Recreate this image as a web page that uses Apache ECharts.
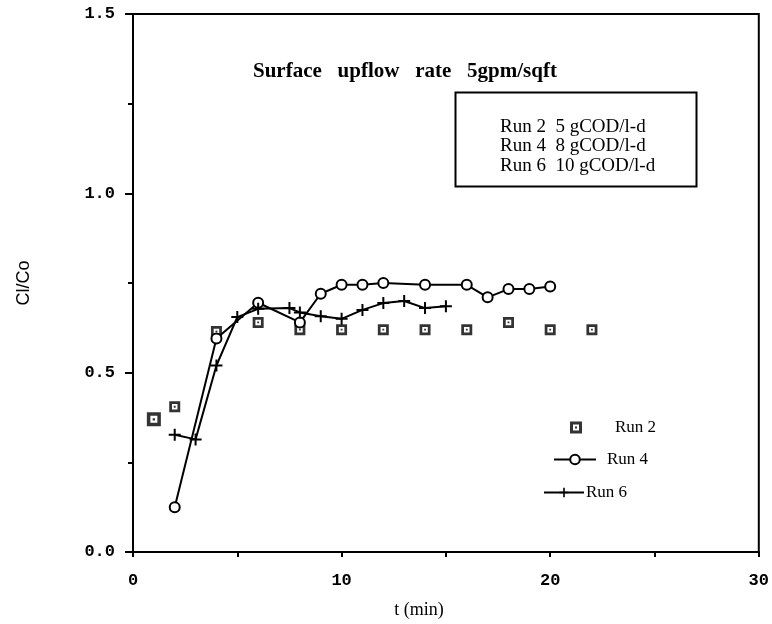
<!DOCTYPE html>
<html>
<head>
<meta charset="utf-8">
<script src="https://cdn.jsdelivr.net/npm/echarts@6/dist/echarts.min.js"></script>
<style>
html,body{margin:0;padding:0;background:#fff;}
#chart{width:772px;height:624px;}
</style>
</head>
<body>
<div id="chart"></div>
<script>
// ---- data ----
const titleText = 'Surface   upflow   rate   5gpm/sqft';
const boxLines = ['Run 2  5 gCOD/l-d', 'Run 4  8 gCOD/l-d', 'Run 6  10 gCOD/l-d'];
const seriesNames = ['Run 2', 'Run 4', 'Run 6'];
const xName = 't (min)';
const yName = 'Cl/Co';
const xTickLabels = ['0', '10', '20', '30'];
const yTickLabels = ['0.0', '0.5', '1.0', '1.5'];

const run2X = [1, 2, 4, 6, 8, 10, 12, 14, 16, 18, 20, 22];
const run2Y = [0.37, 0.405, 0.615, 0.64, 0.62, 0.62, 0.62, 0.62, 0.62, 0.64, 0.62, 0.62];
const run4X = [2, 4, 6, 8, 9, 10, 11, 12, 14, 16, 17, 18, 19, 20];
const run4Y = [0.125, 0.595, 0.695, 0.64, 0.72, 0.745, 0.745, 0.75, 0.745, 0.745, 0.71, 0.733, 0.733, 0.74];
const run6X = [2, 3, 4, 5, 6, 7.5, 8, 9, 10, 11, 12, 13, 14, 15];
const run6Y = [0.327, 0.314, 0.52, 0.655, 0.678, 0.68, 0.668, 0.657, 0.65, 0.675, 0.694, 0.70, 0.68, 0.685];

// ---- build ----
const zip = (xs, ys) => xs.map((x, i) => [x, ys[i]]);
const squareSym = 'path://M0,0H12V12H0Z M3,3V9H9V3Z M5,5H7V7H5Z';
const crossSym = 'path://M5,0H7V12H5Z M0,5H12V7H0Z';
const serif = '"Liberation Serif", "DejaVu Serif", serif';
const mono = '"Liberation Mono", "DejaVu Sans Mono", monospace';

const chart = echarts.init(document.getElementById('chart'), null, {renderer: 'canvas'});
const option = {
  animation: false,
  backgroundColor: '#fff',
  title: {
    text: titleText,
    left: 248, top: 56,
    textStyle: {fontFamily: serif, fontWeight: 'bold', fontSize: 21, color: '#000'}
  },
  grid: {left: 133, right: 11, top: 14, bottom: 70, show: true, borderColor: '#000', borderWidth: 2, backgroundColor: 'transparent'},
  xAxis: {
    type: 'value', min: 0, max: 30, interval: 10,
    name: xName, nameLocation: 'middle', nameGap: 49,
    nameTextStyle: {fontFamily: serif, fontSize: 18, color: '#000', padding: [0, 54, 0, 0]},
    axisLine: {show: true, lineStyle: {color: '#000', width: 2}},
    axisTick: {show: true, length: 5, lineStyle: {color: '#000', width: 2}},
    minorTick: {show: true, splitNumber: 2, length: 5, lineStyle: {color: '#000', width: 2}},
    splitLine: {show: false},
    axisLabel: {margin: 20, fontFamily: mono, fontWeight: 'bold', fontSize: 17, color: '#000',
      formatter: v => xTickLabels[Math.round(v / 10)]}
  },
  yAxis: {
    type: 'value', min: 0, max: 1.5, interval: 0.5,
    name: yName, nameLocation: 'middle', nameGap: 100, nameRotate: 90,
    nameTextStyle: {fontFamily: '"Liberation Sans", Arial, sans-serif', fontSize: 18, color: '#000'},
    axisLine: {show: true, lineStyle: {color: '#000', width: 2}},
    axisTick: {show: true, length: 8, lineStyle: {color: '#000', width: 2}},
    minorTick: {show: true, splitNumber: 2, length: 5, lineStyle: {color: '#000', width: 2}},
    splitLine: {show: false},
    axisLabel: {margin: 18, fontFamily: mono, fontWeight: 'bold', fontSize: 17, color: '#000',
      formatter: v => yTickLabels[Math.round(v / 0.5)]}
  },
  legend: [
    {data: [seriesNames[0]], orient: 'vertical', left: 565, top: 414, itemWidth: 24, itemHeight: 12,
      textStyle: {fontFamily: serif, fontSize: 17, color: '#000', padding: [0, 0, 0, 22]}},
    {data: [seriesNames[1]], orient: 'vertical', left: 548, top: 446, itemWidth: 42, itemHeight: 12,
      textStyle: {fontFamily: serif, fontSize: 17, color: '#000', padding: [0, 0, 0, 6]}},
    {data: [seriesNames[2]], orient: 'vertical', left: 538, top: 479, itemWidth: 40, itemHeight: 12, itemGap: 0,
      textStyle: {fontFamily: serif, fontSize: 17, color: '#000', padding: [0, 0, 0, -3]}}
  ],
  graphic: [
    {type: 'rect', shape: {x: 455.5, y: 92.5, width: 241, height: 94}, style: {fill: 'none', stroke: '#000', lineWidth: 2}, z: 10},
    {type: 'text', x: 500, y: 127, style: {text: boxLines[0], font: '19px ' + serif, fill: '#000', textVerticalAlign: 'middle'}, z: 10},
    {type: 'text', x: 500, y: 146.5, style: {text: boxLines[1], font: '19px ' + serif, fill: '#000', textVerticalAlign: 'middle'}, z: 10},
    {type: 'text', x: 500, y: 166, style: {text: boxLines[2], font: '19px ' + serif, fill: '#000', textVerticalAlign: 'middle'}, z: 10}
  ],
  series: [
    {name: seriesNames[0], type: 'scatter', data: zip(run2X, run2Y),
      symbol: squareSym, symbolSize: (v, p) => p.dataIndex === 0 ? 14 : 11,
      itemStyle: {color: '#000'}},
    {name: seriesNames[1], type: 'line', data: zip(run4X, run4Y),
      symbol: 'circle', symbolSize: 10, showAllSymbol: true,
      lineStyle: {color: '#000', width: 2},
      itemStyle: {color: '#fff', borderColor: '#000', borderWidth: 2}},
    {name: seriesNames[2], type: 'line', data: zip(run6X, run6Y),
      symbol: crossSym, symbolSize: 12, showAllSymbol: true,
      lineStyle: {color: '#000', width: 2},
      itemStyle: {color: '#000'}}
  ]
};
chart.setOption(option);
</script>
</body>
</html>
